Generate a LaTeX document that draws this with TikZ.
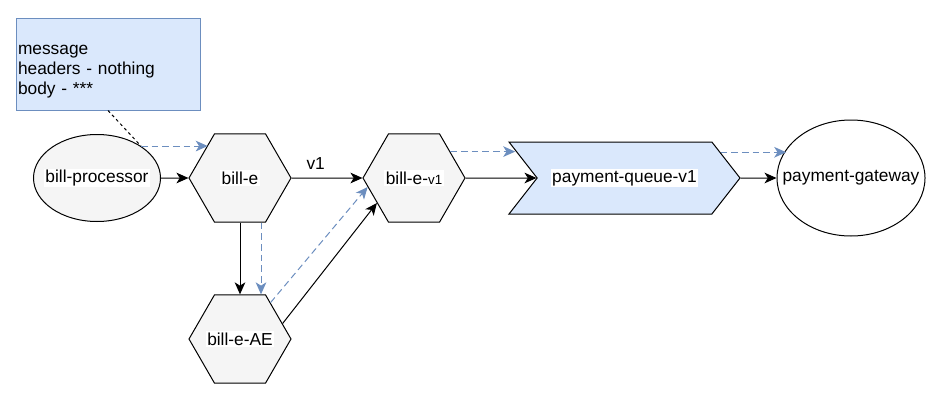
\documentclass[tikz,border=0pt]{standalone}
\usepackage{fontspec}
\setmainfont{Liberation Sans}
\usetikzlibrary{shapes.geometric,shapes.symbols,arrows.meta,calc}
\definecolor{msgfill}{HTML}{DAE8FC}
\definecolor{msgline}{HTML}{6C8EBF}
\definecolor{nodefill}{HTML}{F5F5F5}
\newcommand{\lbl}[1]{\makebox[0pt]{\setlength{\fboxsep}{1pt}\colorbox{white}{#1}}}
\begin{document}
\begin{tikzpicture}[x=0.75pt,y=-0.75pt,
  font=\fontsize{13}{15.6}\selectfont,
  line width=0.75pt,
  >={Stealth[length=9pt,width=8pt,inset=2.5pt]},
  hexa/.style={draw,fill=nodefill,regular polygon,regular polygon sides=6,minimum size=76.5pt,inner sep=0pt},
  oval/.style={draw,ellipse,inner sep=0pt},
  queue/.style={draw,fill=msgfill,signal,signal to=east,signal from=west,signal pointer angle=104,minimum width=173.25pt,minimum height=54pt,inner sep=0pt},
  note/.style={draw=msgline,fill=msgfill,align=left,text width=135pt,minimum height=69pt,inner xsep=1.5pt,font=\fontsize{13}{15}\selectfont},
  trace/.style={->,draw=msgline,dash pattern=on 5pt off 3pt},
  flow/.style={->}
]
\useasboundingbox (0,0) rectangle (948,414);
\node[note] (msg) at (108,64) {\rule{0pt}{18pt}message\\headers - nothing\\body - ***};
\node[oval,fill=nodefill,minimum width=95.25pt,minimum height=65.25pt] (bp) at (97,178) {\lbl{bill-processor}};
\node[hexa] (bille) at (240,178) {\lbl{bill-e}};
\node[hexa] (billev1) at (414,178) {\lbl{bill-e-{\fontsize{10}{12}\selectfont v1}}};
\node[hexa] (billeae) at (240,339) {\lbl{bill-e-AE}};
\node[queue] (queue) at (624.5,178) {\lbl{payment-queue-v1}};
\node[oval,minimum width=111pt,minimum height=87pt] (gw) at (851,178) {\lbl{payment-gateway}};

\draw[flow] (bp) -- (bille);
\draw[flow] (bille) -- node[pos=0.34,above=3pt] (v1) {v1} (billev1);
\draw[flow] (bille) -- (billeae);
\draw[flow] (billeae.20) -- (billev1.214);
\draw[flow] (billev1) -- (queue.180);
\draw[flow] (queue) -- (gw);

\draw[trace] (bp.36) -- (bp.36 -| bille.134);
\draw[trace] ($(bille.south)+(21,0)$) -- ($(billeae.north)+(21,0)$);
\draw[trace] (billeae.50) -- (billev1.191);
\draw[trace] (billev1.36) -- (billev1.36 -| queue.166);
\draw[trace] (queue.15) -- (queue.15 -| gw.156);
\draw[dash pattern=on 2.25pt off 2.25pt] (msg.south) -- (bp.36);
\end{tikzpicture}
\end{document}
